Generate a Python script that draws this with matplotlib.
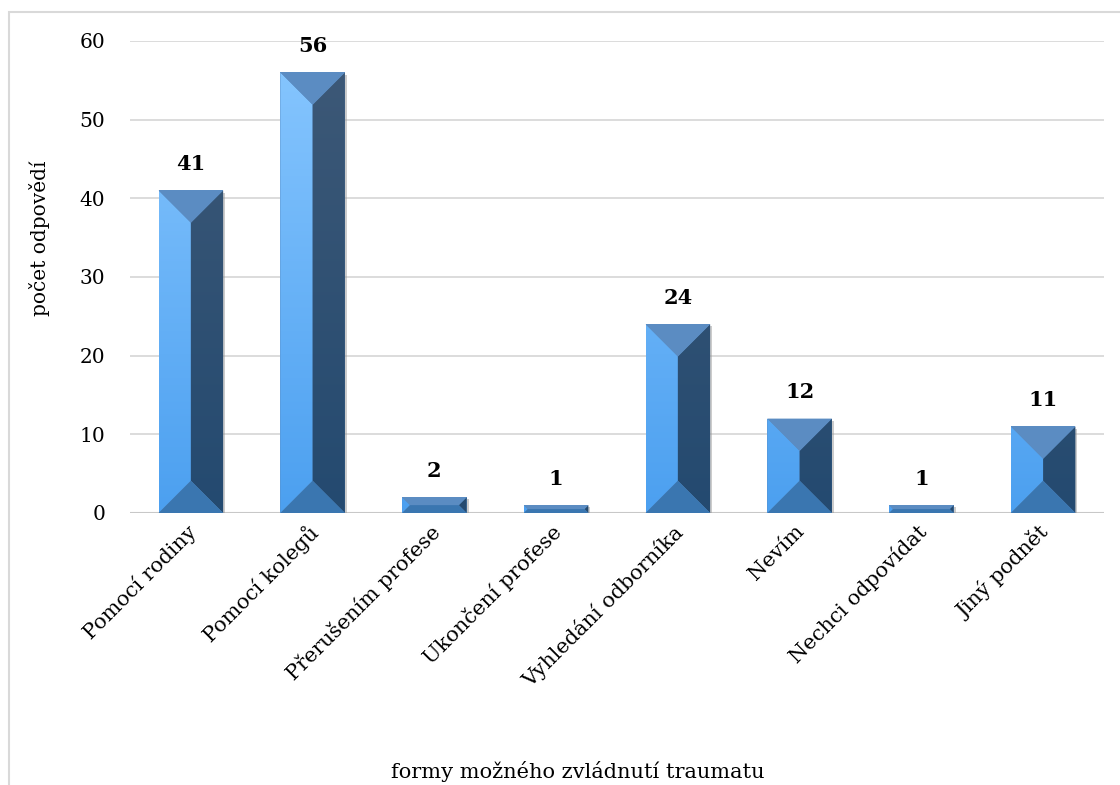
import matplotlib
matplotlib.use("Agg")
import matplotlib.pyplot as plt
import matplotlib.transforms as mtransforms
import numpy as np
from matplotlib.patches import Polygon, Rectangle
import matplotlib.patheffects as pe

categories = ["Pomocí rodiny", "Pomocí kolegů", "Přerušením profese", "Ukončení profese",
              "Vyhledání odborníka", "Nevím", "Nechci odpovídat", "Jiný podnět"]
values = [41, 56, 2, 1, 24, 12, 1, 11]
yticks = [0, 10, 20, 30, 40, 50, 60]
xlabel = "formy možného zvládnutí traumatu"
ylabel = "počet odpovědí"

plt.rcParams['font.family'] = ['DejaVu Serif']

W, H = 1120, 785
fig = plt.figure(figsize=(W / 100, H / 100), dpi=100)
ax = fig.add_axes([130 / W, 1 - 513 / H, (1104 - 130) / W, (513 - 41) / H])

n = len(categories)
x = np.arange(n)
bw = 0.53
ax.set_xlim(-0.5, n - 0.5)
ax.set_ylim(0, 60)

# gridlines
ax.set_yticks(yticks)
ax.yaxis.grid(True, color='#d9d9d9', linewidth=1.3)
ax.set_axisbelow(True)
for s in ['top', 'right', 'left', 'bottom']:
    ax.spines[s].set_visible(False)
ax.axhline(0, color='#c8c8c8', linewidth=1.5, zorder=1)
ax.tick_params(axis='y', length=0, labelsize=14.5, pad=18, colors='black')
ax.tick_params(axis='x', length=0, labelsize=15)
ax.set_xticks(x)
ax.set_xticklabels(categories, rotation=45, ha='right', va='top', rotation_mode='anchor')
shift = mtransforms.ScaledTranslation(-5 / 100, 2 / 100, fig.dpi_scale_trans)
for lbl in ax.get_xticklabels():
    lbl.set_y(-0.012)
    lbl.set_transform(lbl.get_transform() + shift)

# base bars with shadow
bars = ax.bar(x, values, width=bw, color='#5b8dc3', zorder=2,
              path_effects=[pe.SimplePatchShadow(offset=(1.5, -1.5), shadow_rgbFace='#9a9a9a', alpha=0.5),
                            pe.Normal()])

fig.canvas.draw()
p0 = ax.transData.transform((0, 0))
pxx = ax.transData.transform((1, 0))[0] - p0[0]
pxy = ax.transData.transform((0, 1))[1] - p0[1]

top_col = '#5b8cc2'
bot_col = '#3a76b0'
left_top = np.array([0x88, 0xc7, 0xff]) / 255
left_bot = np.array([0x4c, 0xa0, 0xf0]) / 255
right_top = np.array([0x3e, 0x59, 0x77]) / 255
right_bot = np.array([0x24, 0x4a, 0x70]) / 255

for b, v in zip(bars, values):
    L = b.get_x(); R = L + b.get_width(); T = b.get_height(); B = 0
    w_px = (R - L) * pxx; h_px = T * pxy
    d = min(w_px, h_px) / 2
    dx = d / pxx; dy = d / pxy
    left = [(L, B), (L, T), (L + dx, T - dy), (L + dx, B + dy)]
    right = [(R, B), (R, T), (R - dx, T - dy), (R - dx, B + dy)]
    top = [(L, T), (R, T), (R - dx, T - dy), (L + dx, T - dy)]
    bot = [(L, B), (R, B), (R - dx, B + dy), (L + dx, B + dy)]
    for poly, lt, lb in [(left, left_top, left_bot), (right, right_top, right_bot)]:
        pg = Polygon(poly, closed=True, facecolor='none', edgecolor='none', zorder=3)
        ax.add_patch(pg)
        t = np.linspace(0, 1, 64)[:, None]
        img = (lt[None, :] * (1 - t) + lb[None, :] * t)[:, None, :]
        im = ax.imshow(img, extent=(L, R, 0, 60), origin='upper',
                       aspect='auto', zorder=3, interpolation='bilinear')
        im.set_clip_path(pg)
    ax.add_patch(Polygon(top, closed=True, facecolor=top_col, edgecolor='none', zorder=4))
    ax.add_patch(Polygon(bot, closed=True, facecolor=bot_col, edgecolor='none', zorder=4))
    ax.text(b.get_x() + b.get_width() / 2, T + 2.1, str(v), ha='center', va='bottom',
            fontsize=15, fontweight='bold', zorder=5)

ax.set_xlim(-0.5, n - 0.5)
ax.set_ylim(0, 60)

fig.text(578 / W, 1 - 772 / H, xlabel, ha='center', va='center', fontsize=15)
fig.text(40 / W, 1 - 238 / H, ylabel, ha='center', va='center', rotation=90, fontsize=14.5)

fig.add_artist(Rectangle((9 / W, -0.1), 1.2, 1 - 12 / H + 0.1, transform=fig.transFigure,
                         fill=False, edgecolor='#d9d9d9', linewidth=1.5, clip_on=False))

fig.savefig("out.png", dpi=100)
